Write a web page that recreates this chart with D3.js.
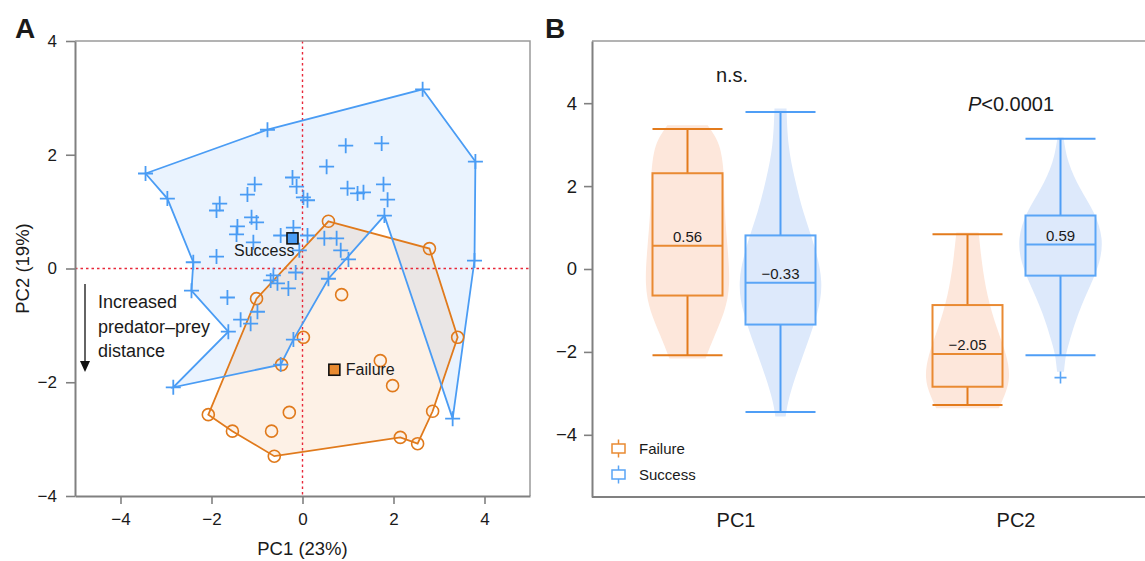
<!DOCTYPE html>
<html><head><meta charset="utf-8">
<script src="https://cdn.jsdelivr.net/npm/d3@7"></script>
<style>
html,body{margin:0;padding:0;background:#fff;}
text{font-family:"Liberation Sans",Arial,Helvetica,sans-serif;fill:#1a1a1a;}
</style></head>
<body>
<svg id="chart" width="1145" height="561"></svg>
<script>
// ---------------- Panel A data (PCA scores) ----------------
const successPC1 = [-3.45,-2.97,-0.77,2.64,3.80,3.78,3.30,1.80,-0.20,-0.48,-2.84,-1.63,-2.44,-2.40,-1.89,-1.82,-1.89,-1.05,-1.21,-1.12,-1.01,-1.43,-1.45,-1.08,-0.22,-0.13,0.02,0.11,-0.20,-0.48,0.11,-0.07,-0.15,-0.64,0.95,1.74,0.53,0.99,1.21,1.34,1.78,1.87,0.48,0.75,0.84,1.01,0.57,-1.65,-1.36,-1.14,-0.99,-0.70,-0.55,-0.31];
const successPC2 = [1.67,1.23,2.44,3.15,1.88,0.14,-2.64,0.93,-1.25,-1.69,-2.09,-1.11,-0.39,0.11,0.21,1.14,1.02,1.48,1.30,0.90,0.81,0.74,0.60,0.46,1.60,1.44,1.25,1.20,0.72,0.58,0.58,0.32,-0.07,-0.12,2.16,2.20,1.79,1.41,1.32,1.34,1.48,1.21,0.53,0.53,0.32,0.16,-0.18,-0.51,-0.90,-0.97,-0.76,-0.21,-0.26,-0.35];
const successHull = [0,2,3,4,5,6,7,46,8,9,10,11,12,13,1];

const failurePC1 = [0.57,2.79,0.86,0.02,3.41,-1.01,-0.46,1.71,1.98,2.86,-2.07,-0.29,-1.54,-0.68,2.15,2.53,-0.62];
const failurePC2 = [0.83,0.35,-0.46,-1.21,-1.21,-0.53,-1.69,-1.62,-2.06,-2.51,-2.57,-2.53,-2.86,-2.86,-2.97,-3.08,-3.30];
const failureHull = [0,1,4,9,15,14,16,12,10,5];

const centroidNames = ["Success","Failure"];
const centroidPC1 = [-0.22, 0.70];
const centroidPC2 = [0.53, -1.78];

const axisTicksA = [-4,-2,0,2,4];

// ---------------- Panel B data (box + violin) ----------------
const groups = ["PC1","PC2"];
const outcomes = ["Failure","Success"];
// [lower whisker, Q1, median, Q3, upper whisker]
const failureBox = [[-2.08,-0.64,0.56,2.31,3.38],[-3.28,-2.84,-2.05,-0.87,0.84]];
const successBox = [[-3.45,-1.34,-0.33,0.81,3.79],[-2.08,-0.16,0.59,1.29,3.14]];
const successOutliers = [[],[-2.62]];
const failureMedianLabels = ["0.56","\u22122.05"];
const successMedianLabels = ["\u22120.33","0.59"];
const pLabels = ["n.s.","P<0.0001"];
// violin profiles: [value, relative density]
const failureViolinPC1 = [[3.47,0.47],[3.21,0.64],[2.97,0.75],[2.6,0.82],[2.17,0.85],[1.37,0.86],[0.56,0.93],[-0.40,1.0],[-1.04,0.87],[-1.60,0.63],[-2.16,0.42]];
const successViolinPC1 = [[3.87,0.14],[2.97,0.17],[2.17,0.33],[1.37,0.52],[0.56,0.80],[-0.32,1.0],[-1.04,0.88],[-1.84,0.61],[-2.64,0.33],[-3.20,0.17],[-3.56,0.12]];
const failureViolinPC2 = [[0.88,0.26],[0.16,0.33],[-0.64,0.45],[-1.44,0.68],[-2.08,0.92],[-2.64,1.0],[-3.04,0.87],[-3.36,0.73]];
const successViolinPC2 = [[3.17,0.07],[2.57,0.16],[1.93,0.45],[1.37,0.80],[0.73,1.0],[0.16,0.92],[-0.32,0.73],[-1.04,0.41],[-1.84,0.18],[-2.08,0.12],[-2.48,0.08]];
const axisTicksB = [-4,-2,0,2,4];

// ---------------- styles ----------------
const BLUE = "#4a9cf4", ORANGE = "#e07a1c";
const BLUE_BOX = "#5aa5f6", ORANGE_BOX = "#e98a32";
const AXIS = "#808080";

const svg = d3.select("#chart");
const fmt = d3.format("d");

// ================= PANEL A =================
const xA = d3.scaleLinear().domain([-5,5]).range([75,530]);
const yA = d3.scaleLinear().domain([-4,4]).range([496,41]);
const gA = svg.append("g");

const sPts = successPC1.map((v,i)=>[v, successPC2[i]]);
const fPts = failurePC1.map((v,i)=>[v, failurePC2[i]]);
const line = d3.line().x(d=>xA(d[0])).y(d=>yA(d[1])).curve(d3.curveLinearClosed);
const sPoly = successHull.map(i=>sPts[i]);
const fPoly = failureHull.map(i=>fPts[i]);

gA.append("path").attr("d", line(sPoly)).attr("fill","rgba(66,150,245,0.11)").attr("stroke","none");
gA.append("path").attr("d", line(fPoly)).attr("fill","rgba(235,140,50,0.12)").attr("stroke","none");

// red dotted zero lines
gA.append("line").attr("x1",xA(0)).attr("x2",xA(0)).attr("y1",yA(4)).attr("y2",yA(-4))
  .attr("stroke","#e8283a").attr("stroke-width",1.4).attr("stroke-dasharray","2.5,3");
gA.append("line").attr("x1",xA(-5)).attr("x2",xA(5)).attr("y1",yA(0)).attr("y2",yA(0))
  .attr("stroke","#e8283a").attr("stroke-width",1.4).attr("stroke-dasharray","2.5,3");

gA.append("path").attr("d", line(fPoly)).attr("fill","none").attr("stroke",ORANGE).attr("stroke-width",1.8);
gA.append("path").attr("d", line(sPoly)).attr("fill","none").attr("stroke",BLUE).attr("stroke-width",1.8);

gA.selectAll("circle.f").data(fPts).join("circle").attr("class","f")
  .attr("cx",d=>xA(d[0])).attr("cy",d=>yA(d[1])).attr("r",6)
  .attr("fill","none").attr("stroke",ORANGE).attr("stroke-width",1.6);
gA.selectAll("path.s").data(sPts).join("path").attr("class","s")
  .attr("transform",d=>`translate(${xA(d[0])},${yA(d[1])})`)
  .attr("d","M-7.5,0H7.5M0,-7.5V7.5").attr("stroke",BLUE).attr("stroke-width",1.8).attr("fill","none");

// centroids
const cFill = [BLUE, "#e88a30"];
centroidNames.forEach((n,i)=>{
  const cx = xA(centroidPC1[i]), cy = yA(centroidPC2[i]);
  gA.append("rect").attr("x",cx-5.5).attr("y",cy-5.5).attr("width",11).attr("height",11)
    .attr("fill",cFill[i]).attr("stroke","#111").attr("stroke-width",1.6);
  if (i===0) gA.append("text").attr("x",cx+2).attr("y",cy+18).attr("text-anchor","end").attr("font-size",16).text(n);
  else gA.append("text").attr("x",cx+11.5).attr("y",cy+5.5).attr("font-size",16).text(n);
});

// box top/right
gA.append("path").attr("d",`M${xA(-5)},${yA(4)}H${xA(5)}V${yA(-4)}`).attr("fill","none").attr("stroke","#9a9a9a").attr("stroke-width",1.5);

// axes
const axA_left = gA.append("g").attr("transform",`translate(${xA(-5)},0)`)
  .call(d3.axisLeft(yA).tickValues(axisTicksA).tickSize(9).tickSizeOuter(0).tickPadding(9).tickFormat(fmt));
const axA_bot = gA.append("g").attr("transform",`translate(0,${yA(-4)})`)
  .call(d3.axisBottom(xA).tickValues(axisTicksA).tickSize(8).tickSizeOuter(0).tickPadding(9).tickFormat(fmt));
[axA_left, axA_bot].forEach(a=>{
  a.select(".domain").attr("stroke",AXIS).attr("stroke-width",2);
  a.selectAll(".tick line").attr("stroke",AXIS).attr("stroke-width",1.6);
  a.selectAll(".tick text").attr("font-size",17).attr("fill","#1a1a1a").style("font-family","Liberation Sans, Arial, sans-serif");
});

gA.append("text").attr("x",xA(0)).attr("y",555).attr("text-anchor","middle").attr("font-size",18.5).text("PC1 (23%)");
gA.append("text").attr("transform",`translate(29,${yA(0)}) rotate(-90)`).attr("text-anchor","middle").attr("font-size",18.5).text("PC2 (19%)");

// annotation arrow
gA.append("line").attr("x1",85).attr("x2",85).attr("y1",284).attr("y2",362).attr("stroke","#111").attr("stroke-width",1.3);
gA.append("path").attr("d","M80,361 L90,361 L85,372 Z").attr("fill","#111");
["Increased","predator\u2013prey","distance"].forEach((t,i)=>{
  gA.append("text").attr("x",98).attr("y",308+i*24.5).attr("font-size",18).text(t);
});

svg.append("text").attr("x",15).attr("y",38).attr("font-size",28).attr("font-weight","bold").text("A");
svg.append("text").attr("x",545).attr("y",38).attr("font-size",28).attr("font-weight","bold").text("B");

// ================= PANEL B =================
const xB = d3.scalePoint().domain(groups).range([594,1154]).padding(0.5);
const yB = d3.scaleLinear().domain([-5.5,5.5]).range([497,41]);
const gB = svg.append("g");
const off = {Failure:-46.5, Success:46.5};
const boxes = {Failure:failureBox, Success:successBox};
const violins = {Failure:[failureViolinPC1,failureViolinPC2], Success:[successViolinPC1,successViolinPC2]};
const medLabels = {Failure:failureMedianLabels, Success:successMedianLabels};
const vFill = {Failure:"#fde7db", Success:"#dde9fb"};
const bStroke = {Failure:ORANGE_BOX, Success:BLUE_BOX};
const wStroke = {Failure:"#e37b1c", Success:"#4f9ef6"};
const VW = 43, BW = 35;

// frame
gB.append("path").attr("d",`M592,${yB(5.5)}H1145`).attr("stroke","#9a9a9a").attr("stroke-width",1.5).attr("fill","none");
const axB_left = gB.append("g").attr("transform","translate(592,0)")
  .call(d3.axisLeft(yB).tickValues(axisTicksB).tickSize(8).tickSizeOuter(0).tickPadding(7).tickFormat(fmt));
axB_left.select(".domain").attr("stroke",AXIS).attr("stroke-width",2);
axB_left.selectAll(".tick line").attr("stroke",AXIS).attr("stroke-width",1.6);
axB_left.selectAll(".tick text").attr("font-size",18.5).attr("fill","#1a1a1a").style("font-family","Liberation Sans, Arial, sans-serif");
gB.append("line").attr("x1",592).attr("x2",1145).attr("y1",yB(-5.5)).attr("y2",yB(-5.5)).attr("stroke",AXIS).attr("stroke-width",2);

groups.forEach((g,gi)=>{
  outcomes.forEach(o=>{
    const cx = xB(g)+off[o];
    const area = d3.area().curve(d3.curveBasis)
      .y(d=>yB(d[0])).x0(d=>cx-d[1]*VW).x1(d=>cx+d[1]*VW);
    gB.append("path").attr("d",area(violins[o][gi])).attr("fill",vFill[o]).attr("stroke","none");
  });
});
groups.forEach((g,gi)=>{
  outcomes.forEach(o=>{
    const cx = xB(g)+off[o];
    const b = boxes[o][gi];
    // whiskers
    gB.append("line").attr("x1",cx).attr("x2",cx).attr("y1",yB(b[4])).attr("y2",yB(b[3])).attr("stroke",wStroke[o]).attr("stroke-width",2);
    gB.append("line").attr("x1",cx).attr("x2",cx).attr("y1",yB(b[1])).attr("y2",yB(b[0])).attr("stroke",wStroke[o]).attr("stroke-width",2);
    gB.append("line").attr("x1",cx-BW).attr("x2",cx+BW).attr("y1",yB(b[4])).attr("y2",yB(b[4])).attr("stroke",wStroke[o]).attr("stroke-width",2);
    gB.append("line").attr("x1",cx-BW).attr("x2",cx+BW).attr("y1",yB(b[0])).attr("y2",yB(b[0])).attr("stroke",wStroke[o]).attr("stroke-width",2);
    // box
    gB.append("rect").attr("x",cx-BW).attr("y",yB(b[3])).attr("width",2*BW).attr("height",yB(b[1])-yB(b[3]))
      .attr("fill","none").attr("stroke",bStroke[o]).attr("stroke-width",2);
    gB.append("line").attr("x1",cx-BW).attr("x2",cx+BW).attr("y1",yB(b[2])).attr("y2",yB(b[2])).attr("stroke",bStroke[o]).attr("stroke-width",2);
    gB.append("text").attr("x",cx).attr("y",yB(b[2])-3.5).attr("text-anchor","middle").attr("font-size",15).text(medLabels[o][gi]);
  });
  successOutliers[gi].forEach(v=>{
    const cx = xB(g)+off.Success;
    gB.append("path").attr("transform",`translate(${cx},${yB(v)})`).attr("d","M-6,0H6M0,-6V6").attr("stroke",BLUE_BOX).attr("stroke-width",1.6);
  });
  gB.append("text").attr("x",xB(g)+2).attr("y",527).attr("text-anchor","middle").attr("font-size",20).text(g);
});

// significance labels
gB.append("text").attr("x",xB("PC1")-2).attr("y",82).attr("text-anchor","middle").attr("font-size",20).text(pLabels[0]);
const pt = gB.append("text").attr("x",xB("PC2")-3).attr("y",111).attr("text-anchor","middle").attr("font-size",20);
pt.append("tspan").attr("font-style","italic").text("P");
pt.append("tspan").text(pLabels[1].slice(1));

// legend
outcomes.forEach((o,i)=>{
  const ly = 448.5 + i*26, lx = 618.5;
  gB.append("line").attr("x1",lx).attr("x2",lx).attr("y1",ly-9).attr("y2",ly+9).attr("stroke",bStroke[o]).attr("stroke-width",1.5);
  gB.append("rect").attr("x",lx-6.5).attr("y",ly-4.5).attr("width",13).attr("height",9).attr("fill","#fff").attr("stroke",bStroke[o]).attr("stroke-width",1.5);
  gB.append("text").attr("x",639).attr("y",ly+5.5).attr("font-size",15).text(o);
});
</script>
</body></html>
